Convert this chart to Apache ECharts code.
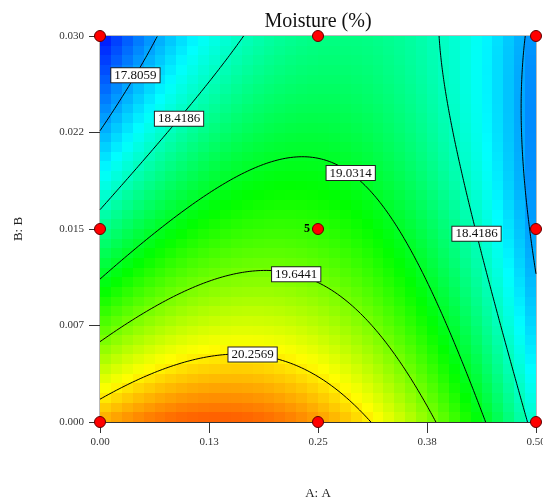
<!DOCTYPE html>
<html>
<head>
<meta charset="utf-8">
<script src="https://cdn.jsdelivr.net/npm/echarts@6/dist/echarts.min.js"></script>
<style>
html,body{margin:0;padding:0;background:#fff;}
#chart{width:543px;height:499px;}
</style>
</head>
<body>
<div id="chart"></div>
<script>
// ---------------- data ----------------
const factorA = [0, 0.25, 0.5];          // factor A levels (low, centre, high)
const factorB = [0, 0.015, 0.03];        // factor B levels
const designA = [0, 0.25, 0.5, 0, 0.25, 0.5, 0, 0.25, 0.5];
const designB = [0, 0, 0, 0.015, 0.015, 0.015, 0.03, 0.03, 0.03];
const replicates = [1, 1, 1, 1, 5, 1, 1, 1, 1];
// fitted quadratic model in coded units: intercept, A, B, AB, A^2, B^2
const modelCoef = [19.353, -0.429, -0.976, 0.686, -1.2, 0.269];
const contourLevels = [17.8059, 18.4186, 19.0314, 19.6441, 20.2569];
const contourLabelText = ['17.8059', '18.4186', '19.0314', '19.6441', '20.2569', '18.4186'];
const xTickLabels = ['0.00', '0.13', '0.25', '0.38', '0.50'];
const yTickLabels = ['0.000', '0.007', '0.015', '0.022', '0.030'];
const colourRange = [17.15, 21.2];

// ---------------- layout ----------------
const GRID = {left: 100, top: 36, width: 436, height: 386};
const HEAT_COLS = 40, HEAT_ROWS = 40, CONTOUR_RES = 160;
// approximate anchor (data units) for each contour label, snapped onto its contour
const labelHints = [
  [0, 0.0373, 0.0270], [1, 0.0883, 0.0236], [2, 0.2867, 0.0193],
  [3, 0.2248, 0.0117], [4, 0.175, 0.0058], [1, 0.430, 0.0146]
];
const SERIF = '"Liberation Serif","Times New Roman",serif';

const aLo = factorA[0], aHi = factorA[2], bLo = factorB[0], bHi = factorB[2];
function predict(A, B) {
  const a = (A - (aLo + aHi) / 2) / ((aHi - aLo) / 2);
  const b = (B - (bLo + bHi) / 2) / ((bHi - bLo) / 2);
  const c = modelCoef;
  return c[0] + c[1] * a + c[2] * b + c[3] * a * b + c[4] * a * a + c[5] * b * b;
}

// heat cells
const cw = (aHi - aLo) / HEAT_COLS, ch = (bHi - bLo) / HEAT_ROWS;
const heatData = [];
for (let j = 0; j < HEAT_ROWS; j++) {
  for (let i = 0; i < HEAT_COLS; i++) {
    const A = aLo + (i + 0.5) * cw, B = bLo + (j + 0.5) * ch;
    heatData.push([A, B, predict(A, B)]);
  }
}

// marching squares contour tracing
function traceContours(level) {
  const n = CONTOUR_RES;
  const xs = i => aLo + (aHi - aLo) * i / n;
  const ys = j => bLo + (bHi - bLo) * j / n;
  const v = [];
  for (let j = 0; j <= n; j++) { v.push([]); for (let i = 0; i <= n; i++) v[j].push(predict(xs(i), ys(j))); }
  const pts = {}, adj = {};
  function ep(key, x1, y1, v1, x2, y2, v2) {
    if (!pts[key]) { const t = (level - v1) / (v2 - v1); pts[key] = [x1 + t * (x2 - x1), y1 + t * (y2 - y1)]; }
    return key;
  }
  function link(k1, k2) { (adj[k1] = adj[k1] || []).push(k2); (adj[k2] = adj[k2] || []).push(k1); }
  for (let j = 0; j < n; j++) {
    for (let i = 0; i < n; i++) {
      const v00 = v[j][i], v10 = v[j][i + 1], v01 = v[j + 1][i], v11 = v[j + 1][i + 1];
      const cr = [];
      if ((v00 < level) !== (v10 < level)) cr.push(ep('h' + i + '_' + j, xs(i), ys(j), v00, xs(i + 1), ys(j), v10));
      if ((v10 < level) !== (v11 < level)) cr.push(ep('v' + (i + 1) + '_' + j, xs(i + 1), ys(j), v10, xs(i + 1), ys(j + 1), v11));
      if ((v01 < level) !== (v11 < level)) cr.push(ep('h' + i + '_' + (j + 1), xs(i), ys(j + 1), v01, xs(i + 1), ys(j + 1), v11));
      if ((v00 < level) !== (v01 < level)) cr.push(ep('v' + i + '_' + j, xs(i), ys(j), v00, xs(i), ys(j + 1), v01));
      if (cr.length === 2) link(cr[0], cr[1]);
      else if (cr.length === 4) { link(cr[0], cr[1]); link(cr[2], cr[3]); }
    }
  }
  const visited = new Set(), lines = [];
  function walk(start) {
    const line = [pts[start]]; visited.add(start); let cur = start;
    while (true) {
      const nx = (adj[cur] || []).find(k => !visited.has(k));
      if (!nx) break;
      line.push(pts[nx]); visited.add(nx); cur = nx;
    }
    return line;
  }
  const keys = Object.keys(adj);
  keys.filter(k => adj[k].length === 1).forEach(k => { if (!visited.has(k)) lines.push(walk(k)); });
  keys.forEach(k => { if (!visited.has(k)) lines.push(walk(k)); });
  return lines;
}

const contourPolys = contourLevels.map(l => traceContours(l));
const series = [];
series.push({
  type: 'custom', silent: true, z: 1, clip: true,
  encode: {x: 0, y: 1},
  data: heatData,
  renderItem: function (params, api) {
    const A = api.value(0), B = api.value(1);
    const p0 = api.coord([A - cw / 2, B - ch / 2]);
    const p1 = api.coord([A + cw / 2, B + ch / 2]);
    const x0 = Math.round(Math.min(p0[0], p1[0])), x1 = Math.round(Math.max(p0[0], p1[0]));
    const y0 = Math.round(Math.min(p0[1], p1[1])), y1 = Math.round(Math.max(p0[1], p1[1]));
    return {type: 'rect', shape: {x: x0, y: y0, width: x1 - x0, height: y1 - y0},
      style: {fill: api.visual('color'), stroke: null}};
  }
});
contourPolys.forEach(polys => polys.forEach(poly => {
  series.push({type: 'line', data: poly, symbol: 'none', showSymbol: false, silent: true,
    lineStyle: {color: '#000', width: 1}, z: 3, clip: true, animation: false});
}));
// contour labels snapped to their contour
const labelData = labelHints.map((h, idx) => {
  const polys = contourPolys[h[0]];
  let best = null, bd = Infinity;
  polys.forEach(p => p.forEach(pt => {
    const dx = (pt[0] - h[1]) / (aHi - aLo), dy = (pt[1] - h[2]) / (bHi - bLo);
    const d = dx * dx + dy * dy;
    if (d < bd) { bd = d; best = pt; }
  }));
  return {value: best, name: contourLabelText[idx]};
});
series.push({
  type: 'scatter', data: labelData, symbolSize: 1, z: 5, silent: true, clip: false,
  itemStyle: {color: '#ffffff', opacity: 1},
  label: {show: true, position: 'inside', formatter: '{b}', color: '#111', fontSize: 13,
    fontFamily: SERIF, backgroundColor: '#ffffff', borderColor: '#222', borderWidth: 1,
    padding: [1, 3, 0, 3], lineHeight: 13, opacity: 1}
});
series.push({
  type: 'scatter', z: 10, clip: false, silent: true,
  data: designA.map((a, i) => ({value: [a, designB[i]], rep: replicates[i]})),
  symbolSize: 11,
  itemStyle: {color: '#ff0000', borderColor: '#600000', borderWidth: 1, opacity: 1},
  label: {show: true, position: 'left', distance: 2, fontSize: 12, fontWeight: 'bold',
    fontFamily: SERIF, color: '#000',
    formatter: p => (p.data.rep > 1 ? String(p.data.rep) : '')}
});

const chart = echarts.init(document.getElementById('chart'), null, {renderer: 'canvas'});
chart.setOption({
  animation: false,
  backgroundColor: '#fff',
  grid: {left: GRID.left, top: GRID.top, width: GRID.width, height: GRID.height,
    outerBoundsMode: 'none', containLabel: false,
    show: true, borderColor: '#777', borderWidth: 1, backgroundColor: 'transparent'},
  graphic: [{type: 'text', x: GRID.left + GRID.width / 2, y: 22, z: 20,
    style: {text: 'Moisture (%)', font: '20px ' + SERIF, fill: '#111', textAlign: 'center', textVerticalAlign: 'middle'}}],
  visualMap: {type: 'continuous', show: false, seriesIndex: 0, dimension: 2,
    min: colourRange[0], max: colourRange[1],
    inRange: {color: ['#0000ff', '#00ffff', '#00ff00', '#ffff00', '#ff0000']}},
  xAxis: {
    type: 'value', min: aLo, max: aHi, interval: (aHi - aLo) / 4,
    name: 'A: A', nameLocation: 'middle', nameGap: 65,
    nameTextStyle: {fontFamily: SERIF, fontSize: 13, color: '#222'},
    axisLine: {show: true, lineStyle: {color: '#333', width: 1}},
    axisTick: {show: true, length: 11, lineStyle: {color: '#333'}},
    axisLabel: {margin: 15, fontFamily: SERIF, fontSize: 11, color: '#333',
      formatter: v => xTickLabels[Math.round((v - aLo) / ((aHi - aLo) / 4))], showMaxLabel: true, showMinLabel: true},
    splitLine: {show: false}
  },
  yAxis: {
    type: 'value', min: bLo, max: bHi, interval: (bHi - bLo) / 4,
    name: 'B: B', nameLocation: 'middle', nameGap: 75,
    nameTextStyle: {fontFamily: SERIF, fontSize: 13, color: '#222'},
    axisLine: {show: true, lineStyle: {color: '#333', width: 1}},
    axisTick: {show: true, length: 11, lineStyle: {color: '#333'}},
    axisLabel: {margin: 16, fontFamily: SERIF, fontSize: 11, color: '#333',
      formatter: v => yTickLabels[Math.round((v - bLo) / ((bHi - bLo) / 4))], showMaxLabel: true, showMinLabel: true},
    splitLine: {show: false}
  },
  series: series
});
</script>
</body>
</html>
